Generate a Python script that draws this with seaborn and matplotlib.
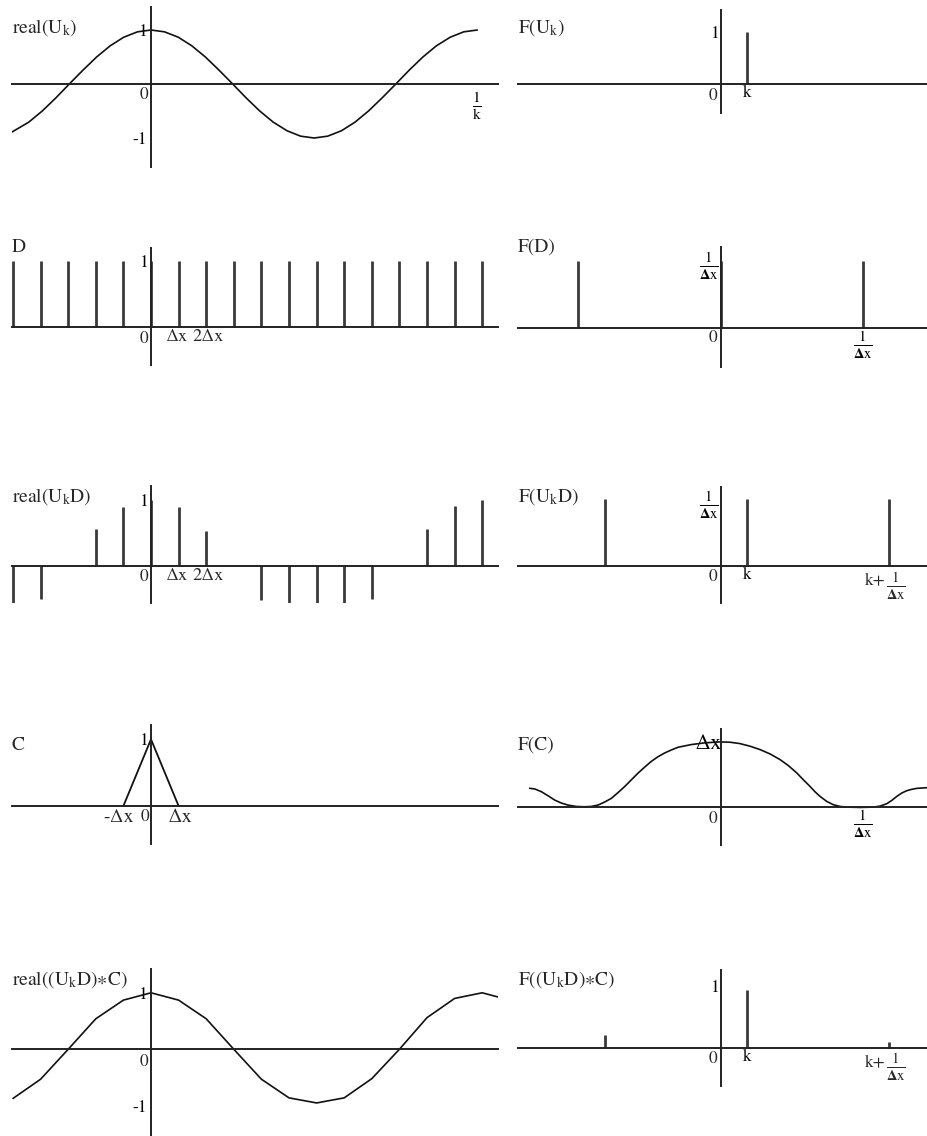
import matplotlib
matplotlib.use("Agg")
import matplotlib.pyplot as plt
import seaborn as sns

# ---------------- data ----------------
# spatial axis in units of delta-x, frequency axis in units of 1/delta-x
k_pos = 0.187

# real(U_k): cosine curve
cos_x = [-5.04, -4.43, -3.94, -3.45, -2.96, -2.46, -1.97, -1.48, -0.99, -0.49, 0.0,
         0.49, 0.99, 1.48, 1.97, 2.46, 2.96, 3.45, 3.94, 4.43, 4.93, 5.42, 5.91,
         6.40, 6.90, 7.39, 7.88, 8.37, 8.87, 9.36, 9.85, 10.34, 10.84, 11.33, 11.82]
cos_y = [-0.89, -0.707, -0.5, -0.259, 0.0, 0.259, 0.5, 0.707, 0.866, 0.966, 1.0,
         0.966, 0.866, 0.707, 0.5, 0.259, 0.0, -0.259, -0.5, -0.707, -0.866, -0.966, -1.0,
         -0.966, -0.866, -0.707, -0.5, -0.259, 0.0, 0.259, 0.5, 0.707, 0.866, 0.966, 1.0]

# D: comb of unit spikes
comb_n = [-5, -4, -3, -2, -1, 0, 1, 2, 3, 4, 5, 6, 7, 8, 9, 10, 11, 12]
comb_h = [1, 1, 1, 1, 1, 1, 1, 1, 1, 1, 1, 1, 1, 1, 1, 1, 1, 1]

# real(U_k D): sampled cosine
samp_h = [-0.86, -0.5, 0.0, 0.56, 0.88, 1.0, 0.88, 0.53, 0.0, -0.53, -0.88, -0.95,
          -0.86, -0.5, 0.0, 0.56, 0.9, 1.0]

# C: triangle kernel
tri_x = [-1, 0, 1]
tri_y = [0, 1, 0]

# real((U_k D)*C): linear interpolation of samples
lin_x = [-5, -4, -3, -2, -1, 0, 1, 2, 3, 4, 5, 6, 7, 8, 9, 10, 11, 12, 13]
lin_y = [-0.87, -0.53, 0.0, 0.54, 0.87, 1.0, 0.87, 0.54, 0.0, -0.53, -0.86, -0.95,
         -0.86, -0.52, 0.0, 0.56, 0.9, 1.0, 0.87]

# F(U_k)
fu_x = [k_pos]
fu_h = [1.0]

# F(D)
fd_x = [-1.0, 0.0, 1.0]
fd_h = [1.0, 1.0, 1.0]

# F(U_k D)
fud_x = [k_pos - 1.0, k_pos, k_pos + 1.0]
fud_h = [1.0, 1.0, 1.0]

# F(C)
fc_x = [-1.344, -1.308, -1.262, -1.215, -1.168, -1.121, -1.074, -1.015, -0.956, -0.910,
        -0.863, -0.816, -0.769, -0.722, -0.675, -0.628, -0.581, -0.534, -0.487, -0.440,
        -0.393, -0.346, -0.299, -0.206, -0.111, -0.006, 0.067, 0.137, 0.208, 0.278,
        0.349, 0.419, 0.478, 0.537, 0.583, 0.630, 0.665, 0.701, 0.748, 0.795,
        0.842, 0.889, 0.982, 1.076, 1.123, 1.170, 1.206, 1.241, 1.276, 1.311,
        1.346, 1.382, 1.452]
fc_y = [0.292, 0.282, 0.241, 0.179, 0.113, 0.067, 0.036, 0.015, 0.010, 0.015,
        0.036, 0.082, 0.138, 0.226, 0.318, 0.421, 0.523, 0.615, 0.703, 0.774,
        0.831, 0.877, 0.918, 0.959, 0.985, 1.000, 0.995, 0.974, 0.934, 0.883,
        0.816, 0.730, 0.638, 0.526, 0.423, 0.321, 0.240, 0.168, 0.092, 0.041,
        0.015, 0.005, 0.0, 0.005, 0.020, 0.056, 0.107, 0.168, 0.219, 0.255,
        0.276, 0.291, 0.301]

# F((U_k D)*C)
fr_x = [k_pos - 1.0, k_pos, k_pos + 1.0]
fr_h = [0.2, 0.93, 0.1]

# ---------------- style ----------------
sns.set_theme(style="white")
plt.rcParams["font.family"] = ["STIXGeneral", "DejaVu Sans"]
plt.rcParams["mathtext.fontset"] = "stix"

W, H = 927, 1136
fig = plt.figure(figsize=(W / 100, H / 100), dpi=100)
fig.patch.set_facecolor("white")

AX_C = "#222222"
SP_C = "#3a3a3a"
CU_C = "#111111"
LBL = 12.5
TTL = 14
FRS = 15

FR = r"$\frac{1}{\mathbf{\Delta}\mathrm{x}}$"
DX = "\u2206x"


def make_ax(x0, x1, ytop, ybot, xlim, ylim):
    ax = fig.add_axes([x0 / W, 1 - ybot / H, (x1 - x0) / W, (ybot - ytop) / H])
    ax.set_facecolor("none")
    ax.set_xlim(*xlim)
    ax.set_ylim(*ylim)
    for s in ("top", "right"):
        ax.spines[s].set_visible(False)
    for s in ("left", "bottom"):
        ax.spines[s].set_position(("data", 0))
        ax.spines[s].set_color(AX_C)
        ax.spines[s].set_linewidth(1.4)
    ax.set_xticks([])
    ax.set_yticks([])
    ax.tick_params(axis="both", colors=AX_C, labelcolor="black", labelsize=LBL,
                   direction="inout", length=0, width=1.0, pad=1)
    ax.grid(False)
    return ax


def label_at(ax, s, x, dx, dy, ha, size):
    ax.annotate(s, xy=(x, 0), xytext=(dx, dy), textcoords="offset points",
                ha=ha, va="top", fontsize=size)


def zero_label(ax, dx=-2.0, dy=-2.5):
    label_at(ax, "0", 0, dx, dy, "right", LBL)


def kplus_label(ax, xpos):
    label_at(ax, "k+", xpos, -2.5, -4.5, "right", LBL)
    label_at(ax, FR, xpos, -2.5, -3.0, "left", FRS)


def dx_labels(ax):
    label_at(ax, DX, 1, -1.2, -1.5, "center", 13)
    label_at(ax, "2" + DX, 2, 1.0, -1.5, "center", 13)


def title(x, y, s):
    fig.text(x / W, 1 - y / H, s, fontsize=TTL, ha="left", va="baseline")


def spikes(ax, xs, hs, lw=2.0):
    ax.vlines(xs, 0, hs, colors=SP_C, linewidth=lw)


LX = (-5.036, 12.572)
RX = (-1.426, 1.454)

# ---- row 1 ----
ax = make_ax(12, 498, 7, 167, LX, (-1.537, 1.426))
sns.lineplot(x=cos_x, y=cos_y, ax=ax, color=CU_C, linewidth=1.2, estimator=None, sort=False)
ax.set_yticks([1, -1], ["1", "-1"])
ax.tick_params(axis="y", length=4)
ax.set_xticks([11.82], [r"$\frac{1}{\mathrm{k}}$"])
ax.tick_params(axis="x", length=8, labelsize=16, pad=0)
zero_label(ax)
title(12, 33, r"real(U$_{\mathrm{k}}$)")

ax = make_ax(518, 927, 10, 113, RX, (-0.554, 1.415))
spikes(ax, fu_x, fu_h)
ax.set_yticks([1], ["1"])
ax.set_xticks([k_pos], ["k"])
zero_label(ax, -2.5, -2.5)
title(518, 33, r"F(U$_{\mathrm{k}}$)")

# ---- row 2 ----
ax = make_ax(12, 498, 248, 365, LX, (-0.565, 1.189))
spikes(ax, comb_n, comb_h)
ax.set_yticks([1], ["1"])
ax.tick_params(axis="y", length=3)
dx_labels(ax)
zero_label(ax)
title(12, 252, "D")

ax = make_ax(518, 927, 246.7, 366.7, RX, (-0.575, 1.208))
spikes(ax, fd_x, fd_h)
ax.set_yticks([1], [FR])
ax.set_xticks([1], [FR])
ax.tick_params(axis="both", labelsize=FRS)
zero_label(ax, -2.5, -1.5)
title(518, 252, "F(D)")

# ---- row 3 ----
ax = make_ax(12, 498, 486, 603, LX, (-0.568, 1.205))
spikes(ax, comb_n, samp_h)
ax.set_yticks([1], ["1"])
ax.tick_params(axis="y", length=3)
dx_labels(ax)
zero_label(ax)
title(12, 502, r"real(U$_{\mathrm{k}}$D)")

ax = make_ax(518, 927, 486.7, 603, RX, (-0.555, 1.189))
spikes(ax, fud_x, fud_h)
ax.set_yticks([1], [FR])
ax.set_xticks([k_pos], ["k"])
ax.tick_params(axis="y", labelsize=FRS)
kplus_label(ax, k_pos + 1.0)
zero_label(ax, -2.5, -2.5)
title(518, 502, r"F(U$_{\mathrm{k}}$D)")

# ---- row 4 ----
ax = make_ax(12, 498, 725, 844, LX, (-0.57, 1.214))
sns.lineplot(x=tri_x, y=tri_y, ax=ax, color=CU_C, linewidth=1.3, estimator=None, sort=False)
ax.set_yticks([1], ["1"])
ax.tick_params(axis="y", length=3)
label_at(ax, "-" + DX, -1, 7.5, -2.0, "right", 14)
label_at(ax, DX, 1, -7.5, -2.0, "left", 14.5)
zero_label(ax, -1.5, -2.5)
title(12, 750, "C")

ax = make_ax(518, 927, 729.3, 845, RX, (-0.573, 1.192))
sns.lineplot(x=fc_x, y=fc_y, ax=ax, color=CU_C, linewidth=1.2, estimator=None, sort=False)
ax.set_yticks([1], [DX])
ax.tick_params(axis="y", labelsize=16, pad=-1)
ax.set_xticks([1], [FR])
ax.tick_params(axis="x", labelsize=FRS)
zero_label(ax, -2.5, -2.5)
title(518, 750, "F(C)")

# ---- row 5 ----
ax = make_ax(12, 498, 969, 1136, LX, (-1.535, 1.421))
sns.lineplot(x=lin_x, y=lin_y, ax=ax, color=CU_C, linewidth=1.2, estimator=None, sort=False)
ax.set_yticks([1, -1], ["1", "-1"])
ax.tick_params(axis="y", length=4)
zero_label(ax, -2.0, -3.5)
title(12, 985, r"real((U$_{\mathrm{k}}$D)$\ast$C)")

ax = make_ax(518, 927, 970, 1085.7, RX, (-0.61, 1.253))
spikes(ax, fr_x, fr_h)
ax.set_yticks([1], ["1"])
ax.set_xticks([k_pos], ["k"])
kplus_label(ax, k_pos + 1.0)
zero_label(ax, -2.5, -2.5)
title(518, 985, r"F((U$_{\mathrm{k}}$D)$\ast$C)")

fig.savefig("out.png", dpi=100, facecolor="white")
